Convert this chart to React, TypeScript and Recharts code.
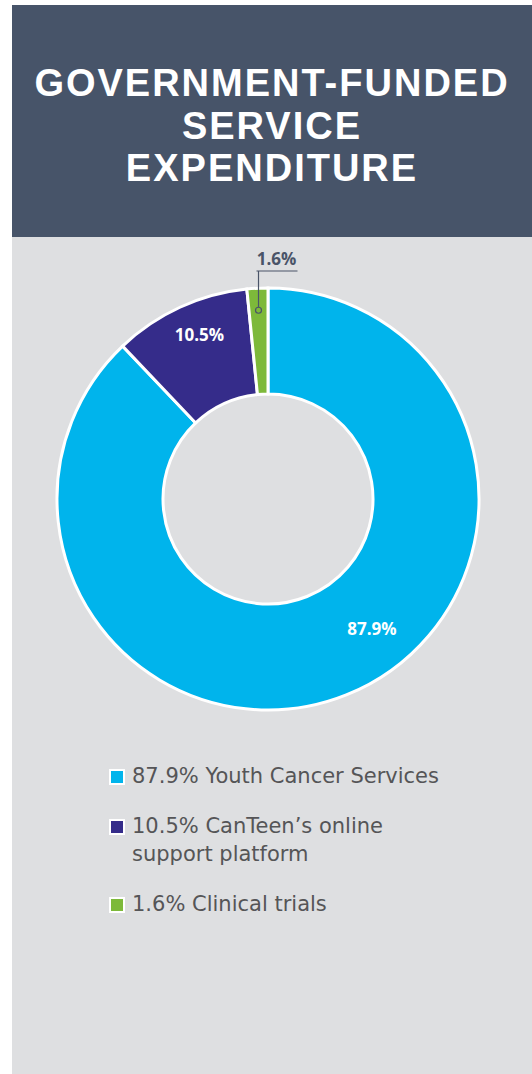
import React from "react";
import { PieChart, Pie, Cell, Legend } from "recharts";

const categories = ["Youth Cancer Services", "CanTeen\u2019s online support platform", "Clinical trials"];
const values = [87.9, 10.5, 1.6];
const colors = ["#00B4EC", "#352C8A", "#7DB93A"];
const legendLines = [["87.9% Youth Cancer Services"], ["10.5% CanTeen\u2019s online", "support platform"], ["1.6% Clinical trials"]];
const titleLines = ["GOVERNMENT-FUNDED", "SERVICE", "EXPENDITURE"];

const data = categories.map((name, i) => ({ name, value: values[i] }));

const RAD = Math.PI / 180;
const labelAngleOffset = [17, -2, 0];
const labelRadius = [166, 178, 189];

const renderLabel = (props: any) => {
  const { cx, cy, midAngle, index, value } = props;
  const a = (midAngle + labelAngleOffset[index]) * RAD;
  const r = labelRadius[index];
  const x = cx + r * Math.cos(a);
  const y = cy - r * Math.sin(a);
  if (index === 2) {
    const topY = cy - 228;
    return (
      <g>
        <line x1={x} y1={topY} x2={x} y2={y - 3} stroke="#4A5468" strokeWidth={1.2} />
        <line x1={x - 2} y1={topY} x2={x + 39} y2={topY} stroke="#4A5468" strokeWidth={1.2} />
        <circle cx={x} cy={y} r={3} fill="none" stroke="#4A5468" strokeWidth={1.2} />
        <text x={x + 18} y={topY - 6} textAnchor="middle" fill="#4A5468" fontSize={17} fontWeight={700} fontFamily="'Open Sans', 'DejaVu Sans', sans-serif">
          {`${value}%`}
        </text>
      </g>
    );
  }
  return (
    <text x={x} y={y} textAnchor="middle" dominantBaseline="central" fill="#FFFFFF" fontSize={17} fontWeight={700} fontFamily="'Open Sans', 'DejaVu Sans', sans-serif">
      {`${value}%`}
    </text>
  );
};

const renderLegend = () => (
  <div style={{ fontFamily: "'DejaVu Sans', sans-serif" }}>
    {legendLines.map((lines, i) => (
      <div key={i} style={{ display: "flex", alignItems: "flex-start", marginBottom: 22 }}>
        <div style={{ width: 12, height: 12, background: colors[i], border: "2px solid #FFFFFF", marginTop: 7, marginRight: 7, flexShrink: 0 }} />
        <div style={{ fontSize: 21, lineHeight: "28px", color: "#555557", fontWeight: 400 }}>
          {lines.map((l, j) => (
            <React.Fragment key={j}>
              {j > 0 && <br />}
              {l}
            </React.Fragment>
          ))}
        </div>
      </div>
    ))}
  </div>
);

export default function App() {
  return (
    <div style={{ position: "absolute", left: 0, top: 0, width: 532, height: 1074, background: "#FFFFFF" }}>
      <div style={{ position: "absolute", left: 12, top: 5, width: 520, height: 232, background: "#475469", paddingTop: 57, boxSizing: "border-box", textAlign: "center" }}>
        <div style={{ color: "#FFFFFF", fontFamily: "'Liberation Sans', Arial, sans-serif", fontWeight: 700, fontSize: 38, lineHeight: "42.5px", letterSpacing: 2 }}>
          {titleLines.map((t, i) => (
            <React.Fragment key={i}>
              {i > 0 && <br />}
              {t}
            </React.Fragment>
          ))}
        </div>
      </div>
      <div style={{ position: "absolute", left: 12, top: 237, width: 520, height: 837, background: "#DEDFE1" }}>
        <PieChart width={520} height={760} margin={{ top: 0, right: 0, bottom: 0, left: 0 }}>
          <Pie
            data={data}
            dataKey="value"
            nameKey="name"
            cx={256}
            cy={262}
            innerRadius={105}
            outerRadius={211}
            startAngle={90}
            endAngle={-270}
            stroke="#FFFFFF"
            strokeWidth={3}
            label={renderLabel}
            labelLine={false}
            isAnimationActive={false}
          >
            {data.map((d, i) => (
              <Cell key={d.name} fill={colors[i]} />
            ))}
          </Pie>
          <Legend
            content={renderLegend}
            wrapperStyle={{ position: "absolute", left: 97, top: 525, width: 420 }}
          />
        </PieChart>
      </div>
    </div>
  );
}
